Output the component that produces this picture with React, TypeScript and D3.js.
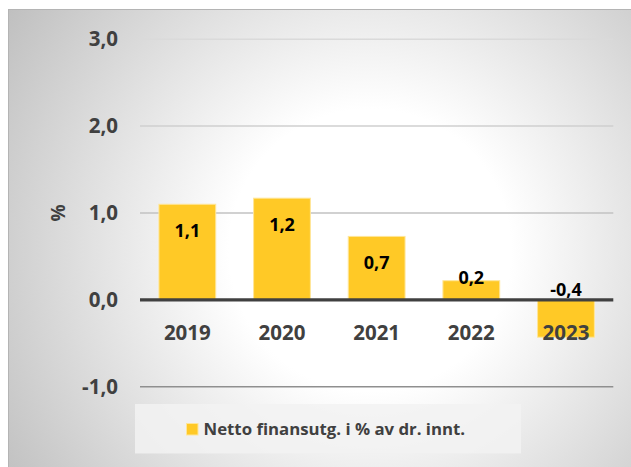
import React from "react";
import * as d3 from "d3";

const categories = ["2019", "2020", "2021", "2022", "2023"];
const values = [1.1, 1.17, 0.73, 0.22, -0.43];
const labels = ["1,1", "1,2", "0,7", "0,2", "-0,4"];
const yTicks = [-1, 0, 1, 2, 3];
const yTickLabels = ["-1,0", "0,0", "1,0", "2,0", "3,0"];
const legendLabel = "Netto finansutg. i % av dr. innt.";
const yAxisTitle = "%";

const W = 631;
const H = 467;
const FONT = "'Open Sans', Lato, sans-serif";

export default function App() {
  const x = d3.scaleBand<string>().domain(categories).range([140, 613.3]).paddingInner(0.4).paddingOuter(0.2);
  const y = d3.scaleLinear().domain([-1, 3]).range([386.7, 39.2]);
  const y0 = y(0);

  const gridColor = (t: number) => (t < 0 ? "#8f8f8f" : t === 1 ? "#c2c2c2" : t === 2 ? "#cfcfcf" : "#dadada");

  return (
    <svg width={W} height={H} style={{ position: "absolute", left: 0, top: 0 }} fontFamily={FONT}>
      <defs>
        <radialGradient id="bg" gradientUnits="userSpaceOnUse" cx={370} cy={250} r={470}>
          <stop offset="0" stopColor="#ffffff" />
          <stop offset="0.3" stopColor="#ffffff" />
          <stop offset="1" stopColor="#b8b8b8" />
        </radialGradient>
      </defs>
      <rect x={0} y={0} width={W} height={H} fill="#ffffff" />
      <rect x={8.5} y={9.5} width={640} height={480} fill="url(#bg)" stroke="#b4b4b4" strokeWidth={1} />

      {yTicks.filter((t) => t !== 0).map((t) => (
        <line key={t} x1={140} x2={613.3} y1={y(t)} y2={y(t)} stroke={gridColor(t)} strokeWidth={1.5} />
      ))}

      {yTicks.map((t, i) => (
        <text key={t} x={118} y={y(t) + 7} textAnchor="end" fontSize={20.5} fontWeight="bold" fill="#404040">
          {yTickLabels[i]}
        </text>
      ))}

      <text
        transform={`translate(${65},${213}) rotate(-90)`}
        textAnchor="middle"
        fontSize={19}
        fontWeight="bold"
        fill="#404040"
      >
        {yAxisTitle}
      </text>

      {categories.map((c, i) => {
        const v = values[i];
        const top = y(Math.max(0, v));
        const bottom = y(Math.min(0, v));
        return (
          <rect
            key={c}
            x={x(c)}
            y={top}
            width={x.bandwidth()}
            height={bottom - top}
            fill="#ffc926"
            stroke="#ffe699"
            strokeWidth={1}
          />
        );
      })}

      <line x1={140} x2={613.3} y1={y0} y2={y0} stroke="#404040" strokeWidth={3.3} />

      {categories.map((c, i) => (
        <text
          key={c}
          x={(x(c) as number) + x.bandwidth() / 2}
          y={339.5}
          textAnchor="middle"
          fontSize={20.5}
          fontWeight="bold"
          fill="#404040"
        >
          {c}
        </text>
      ))}

      {categories.map((c, i) => {
        const v = values[i];
        const top = y(v);
        const h = y0 - top;
        let by: number;
        if (v < 0) by = y0 - 4;
        else if (h > 40) by = top + 32.5;
        else by = top + 3;
        return (
          <text
            key={c}
            x={(x(c) as number) + x.bandwidth() / 2}
            y={by}
            textAnchor="middle"
            fontSize={18}
            fontWeight="bold"
            fill="#000000"
          >
            {labels[i]}
          </text>
        );
      })}

      <rect x={135} y={404} width={386} height={49.5} fill="#f2f2f2" opacity={0.85} />
      <rect x={186.5} y={423.5} width={11.5} height={11.5} fill="#ffc926" stroke="#ffe699" strokeWidth={1} />
      <text x={203.5} y={435} fontSize={16.8} fontWeight="bold" fill="#404040">
        {legendLabel}
      </text>
    </svg>
  );
}
